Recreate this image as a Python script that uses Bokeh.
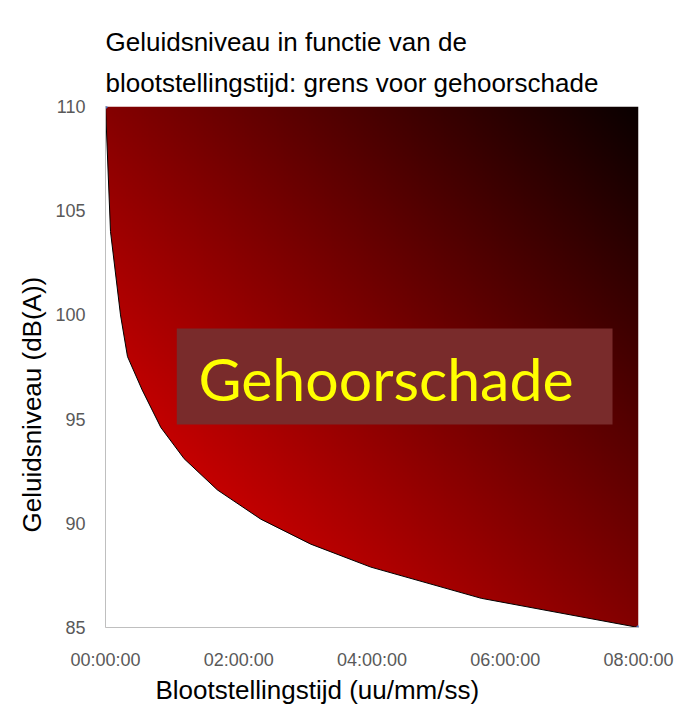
import numpy as np
from bokeh.plotting import figure
from bokeh.models import Title, Label, BoxAnnotation, FixedTicker, Range1d
from bokeh.embed import file_html
from bokeh.resources import INLINE

# ---- data ----
exposure_hours = [0.0, 0.075, 0.225, 0.33, 0.55, 0.83, 1.18, 1.68, 2.33, 3.08, 3.98, 5.64, 8.0]
sound_level_db = [110, 104, 100, 98, 96.4, 94.6, 93.1, 91.6, 90.2, 89.0, 87.9, 86.4, 85]
x_tick_values = [0, 2, 4, 6, 8]
x_tick_labels = ["00:00:00", "02:00:00", "04:00:00", "06:00:00", "08:00:00"]
y_tick_values = [85, 90, 95, 100, 105, 110]
title_lines = ["Geluidsniveau in functie van de",
               "blootstellingstijd: grens voor gehoorschade"]
x_label = "Blootstellingstijd (uu/mm/ss)"
y_label = "Geluidsniveau (dB(A))"
zone_label = "Gehoorschade"

FONT = "Liberation Sans"
x_min, x_max = 0, 8
y_min, y_max = 85, 110

p = figure(width=675, height=704, output_backend="svg", toolbar_location=None,
           x_range=Range1d(x_min, x_max), y_range=Range1d(y_min, y_max),
           min_border_left=105, min_border_right=37, min_border_top=106, min_border_bottom=76)
p.outline_line_color = None
p.grid.visible = False
p.background_fill_color = "white"
p.border_fill_color = "white"

# axes
for ax in (p.xaxis[0], p.yaxis[0]):
    ax.axis_line_color = "#bfbfbf"
    ax.axis_line_width = 1
    ax.major_tick_line_color = None
    ax.minor_tick_line_color = None
    ax.major_tick_in = 0
    ax.major_tick_out = 0
    ax.minor_tick_in = 0
    ax.minor_tick_out = 0
    ax.major_label_text_font = FONT
    ax.major_label_text_font_size = "18px"
    ax.major_label_text_color = "#595959"

p.xaxis.ticker = FixedTicker(ticks=x_tick_values)
p.xaxis.major_label_overrides = {v_: s for v_, s in zip(x_tick_values, x_tick_labels)}
p.xaxis.major_label_standoff = 22
p.yaxis.ticker = FixedTicker(ticks=y_tick_values)
p.yaxis.major_label_standoff = 20

# titles (two lines; the later added sits further from the plot)
p.title.text = ""
t2 = Title(text=title_lines[1], align="left", text_font=FONT, text_font_size="26px",
           text_font_style="normal", text_color="black", standoff=18,
           text_line_height=0.85)
t1 = Title(text=title_lines[0], align="left", text_font=FONT, text_font_size="26px",
           text_font_style="normal", text_color="black", standoff=0,
           text_line_height=1.05)
p.add_layout(t2, "above")
p.add_layout(t1, "above")

# axis titles
xt = Title(text=x_label, align="left", offset=50, text_font=FONT, text_font_size="26px",
           text_font_style="normal", text_color="black", standoff=0,
           text_line_height=1.0)
p.add_layout(xt, "below")
yt = Title(text=y_label, align="left", offset=95, text_font=FONT, text_font_size="26px",
           text_font_style="normal", text_color="black", standoff=12)
p.add_layout(yt, "left")

# gradient fill (bottom-left red -> top-right black)
nx, ny = 300, 300
u = np.linspace(0, 1, nx)[None, :]
v = np.linspace(0, 1, ny)[:, None]
W, H = 533.0, 521.5
t = (u * W + v * H) / (W + H)
red = np.clip(253 - 243 * t, 0, 255)
img = np.empty((ny, nx), dtype=np.uint32)
view = img.view(dtype=np.uint8).reshape((ny, nx, 4))
view[..., 0] = red.astype(np.uint8)
view[..., 1] = 0
view[..., 2] = 0
view[..., 3] = 255
p.image_rgba(image=[img], x=x_min, y=y_min, dw=x_max - x_min, dh=y_max - y_min)

# white area below the limit curve
p.varea(x=exposure_hours, y1=[y_min] * len(exposure_hours), y2=sound_level_db,
        fill_color="white")
p.line(exposure_hours, sound_level_db, line_color="black", line_width=1)
p.scatter([exposure_hours[0], exposure_hours[-1]], [sound_level_db[0], sound_level_db[-1]],
          marker="square", size=3, color="#4472c4")

# label box
box = BoxAnnotation(left=1.07, right=7.61, bottom=94.74, top=99.35,
                    fill_color="#792b2b", fill_alpha=1.0, line_color=None)
p.add_layout(box)
p.add_layout(Label(x=4.21, y=96.95, text=zone_label, text_font="Lato",
                   text_font_size="59px", text_color="#ffff00",
                   text_align="center", text_baseline="middle"))

open("out.html", "w").write(file_html(p, INLINE))
